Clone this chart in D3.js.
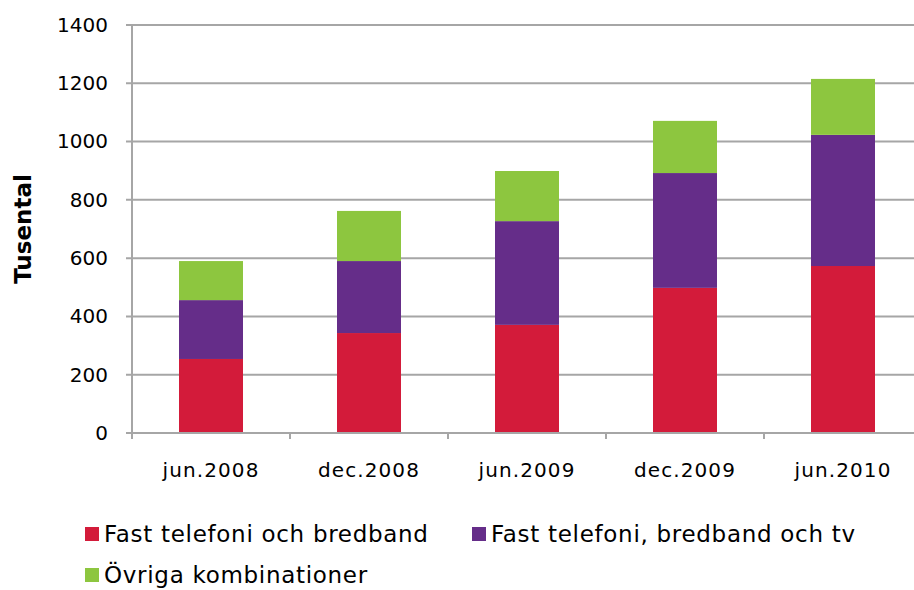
<!DOCTYPE html>
<html>
<head>
<meta charset="utf-8">
<script src="https://cdn.jsdelivr.net/npm/d3@7"></script>
<style>
  body { margin: 0; background: #fff; }
  text { font-family: "DejaVu Sans", Verdana, sans-serif; fill: #000; }
</style>
</head>
<body>
<script>
const periods = ["jun.2008", "dec.2008", "jun.2009", "dec.2009", "jun.2010"];
const seriesNames = ["Fast telefoni och bredband", "Fast telefoni, bredband och tv", "Övriga kombinationer"];
const fastBredband = [254, 343, 371, 498, 573];
const fastBredbandTv = [202, 247, 356, 394, 450];
const ovriga = [134, 172, 172, 179, 192];
const yTicks = [0, 200, 400, 600, 800, 1000, 1200, 1400];
const colors = ["#d31b3a", "#652d89", "#8dc63f"];

const W = 914;
const H = 590;
const padL = 132, padT = 25, baseY = 433, padR = 922;

const svg = d3.select("body").append("svg")
  .attr("width", W)
  .attr("height", H);

const rows = periods.map((p, i) => ({
  period: p,
  s0: fastBredband[i],
  s1: fastBredbandTv[i],
  s2: ovriga[i]
}));

const stack = d3.stack().keys(["s0", "s1", "s2"])(rows);

const x = d3.scaleBand()
  .domain(periods)
  .range([padL, padR])
  .paddingInner(0.595)
  .paddingOuter(0.2975);

const y = d3.scaleLinear()
  .domain([0, 1400])
  .range([baseY, padT]);

// gridlines
svg.append("g")
  .selectAll("line")
  .data(yTicks)
  .join("line")
  .attr("x1", padL - 6)
  .attr("x2", W)
  .attr("y1", d => y(d))
  .attr("y2", d => y(d))
  .attr("stroke", "#a6a6a6")
  .attr("stroke-width", 2);

// y axis
const yAxis = d3.axisLeft(y).tickValues(yTicks).tickFormat(d3.format("d"))
  .tickSize(0).tickPadding(24);
const gy = svg.append("g")
  .attr("transform", `translate(${padL},0)`)
  .call(yAxis);
gy.select(".domain").remove();
gy.selectAll("text")
  .style("font-size", "20px")
  .style("font-family", "DejaVu Sans, Verdana, sans-serif");

svg.append("line")
  .attr("x1", padL).attr("x2", padL)
  .attr("y1", padT).attr("y2", baseY + 6)
  .attr("stroke", "#a6a6a6")
  .attr("stroke-width", 2);

// bars
svg.append("g")
  .selectAll("g")
  .data(stack)
  .join("g")
  .attr("fill", (d, i) => colors[i])
  .selectAll("rect")
  .data(d => d)
  .join("rect")
  .attr("x", d => x(d.data.period))
  .attr("y", d => y(d[1]))
  .attr("width", x.bandwidth())
  .attr("height", d => y(d[0]) - y(d[1]));

// x axis
const step = x.step();
const xAxis = d3.axisBottom(x).tickSize(0).tickPadding(30);
const gx = svg.append("g")
  .attr("transform", `translate(0,${baseY})`)
  .call(xAxis);
gx.select(".domain").remove();
gx.selectAll("text")
  .style("font-size", "20px")
  .style("letter-spacing", "1.1px")
  .style("font-family", "DejaVu Sans, Verdana, sans-serif");

svg.append("line")
  .attr("x1", padL).attr("x2", W)
  .attr("y1", baseY).attr("y2", baseY)
  .attr("stroke", "#a6a6a6")
  .attr("stroke-width", 2);

svg.append("g")
  .selectAll("line")
  .data(d3.range(periods.length + 1))
  .join("line")
  .attr("x1", i => padL + i * step)
  .attr("x2", i => padL + i * step)
  .attr("y1", baseY)
  .attr("y2", baseY + 6)
  .attr("stroke", "#a6a6a6")
  .attr("stroke-width", 2);

// y title
svg.append("text")
  .text("Tusental")
  .attr("transform", `translate(31, ${(padT + baseY) / 2}) rotate(-90)`)
  .attr("text-anchor", "middle")
  .style("font-size", "23px")
  .style("font-weight", "bold");

// legend
const legendPos = [[85, 534], [472, 534], [85, 575]];
const legend = svg.append("g")
  .selectAll("g")
  .data(seriesNames)
  .join("g")
  .attr("transform", (d, i) => `translate(${legendPos[i][0]},${legendPos[i][1]})`);

legend.append("rect")
  .attr("x", 0)
  .attr("y", -7)
  .attr("width", 14)
  .attr("height", 14)
  .attr("fill", (d, i) => colors[i]);

legend.append("text")
  .text(d => d)
  .attr("x", 19)
  .attr("y", 8)
  .style("font-size", "23px")
  .style("letter-spacing", "0.7px");
</script>
</body>
</html>
